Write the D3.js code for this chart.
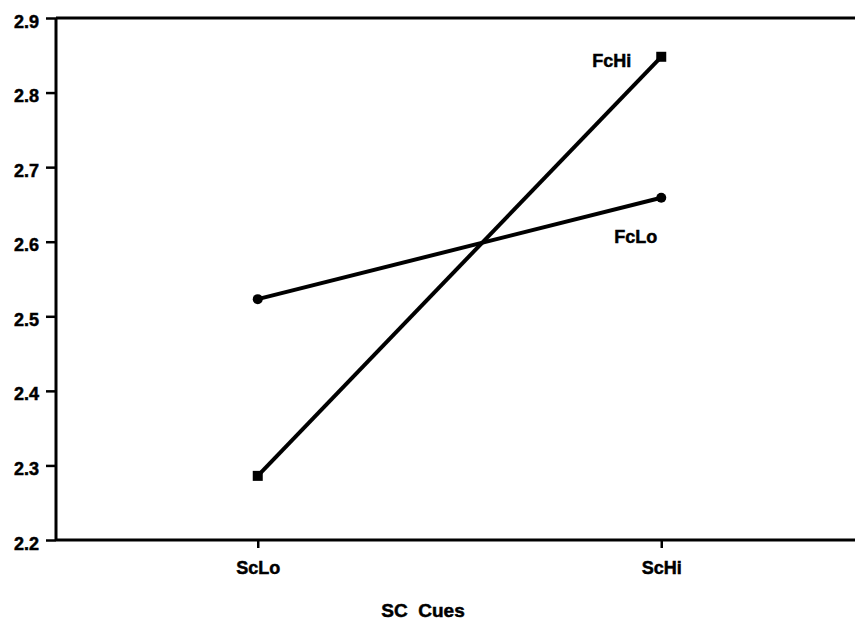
<!DOCTYPE html>
<html>
<head>
<meta charset="utf-8">
<script src="https://cdn.jsdelivr.net/npm/d3@7"></script>
<style>
  body { margin: 0; background: #fff; }
  svg { display: block; }
  text { font-family: "Liberation Sans", Arial, sans-serif; font-weight: bold; fill: #000; stroke: #000; stroke-width: 0.5px; }
</style>
</head>
<body>
<svg id="chart" width="855" height="621"></svg>
<script>
const categories = ["ScLo", "ScHi"];
const seriesNames = ["FcLo", "FcHi"];
const fcLo = [2.523, 2.659];
const fcHi = [2.286, 2.848];
const yTicks = [2.2, 2.3, 2.4, 2.5, 2.6, 2.7, 2.8, 2.9];
const xTitle = "SC\u00A0\u00A0Cues";

(function () {
const svg = d3.select("#chart");
const mLeft = 56, mRight = 863, mTop = 18, mBottom = 540;

const x = d3.scalePoint().domain(categories).range([mLeft, mRight]).padding(0.5);
const y = d3.scaleLinear().domain([2.2, 2.9]).range([mBottom, mTop]);

svg.append("line").attr("x1", mLeft).attr("x2", 855).attr("y1", mTop).attr("y2", mTop)
  .attr("stroke", "#000").attr("stroke-width", 3);

const yAxis = svg.append("g").attr("transform", `translate(${mLeft},0)`)
  .call(d3.axisLeft(y).tickValues(yTicks).tickFormat(d3.format(".1f")).tickSize(10).tickPadding(7));
yAxis.select(".domain").attr("stroke-width", 3).attr("d", `M0,${mTop}V${mBottom}`);
yAxis.selectAll(".tick line").attr("stroke-width", 2.5);
yAxis.selectAll("text").style("font-size", "18px").attr("dy", "0.5em");

const xAxis = svg.append("g").attr("transform", `translate(0,${mBottom})`)
  .call(d3.axisBottom(x).tickSize(8).tickPadding(13));
xAxis.select(".domain").attr("stroke-width", 3).attr("d", `M${mLeft},0H855`);
xAxis.selectAll(".tick line").attr("stroke-width", 2.5);
xAxis.selectAll("text").style("font-size", "18px");

svg.append("text").attr("x", 423).attr("y", 617).attr("text-anchor", "middle")
  .style("font-size", "19px").text(xTitle);

const line = d3.line().x((d, i) => x(categories[i])).y(d => y(d));

svg.append("path").datum(fcLo).attr("d", line).attr("fill", "none")
  .attr("stroke", "#000").attr("stroke-width", 4);
svg.append("path").datum(fcHi).attr("d", line).attr("fill", "none")
  .attr("stroke", "#000").attr("stroke-width", 4);

svg.selectAll("circle.m").data(fcLo).enter().append("circle")
  .attr("cx", (d, i) => x(categories[i])).attr("cy", d => y(d)).attr("r", 5).attr("fill", "#000");
svg.selectAll("rect.m").data(fcHi).enter().append("rect")
  .attr("x", (d, i) => x(categories[i]) - 5).attr("y", d => y(d) - 5)
  .attr("width", 10).attr("height", 10).attr("fill", "#000");

svg.append("text").attr("x", x("ScHi") - 30).attr("y", y(fcHi[1]) + 10)
  .attr("text-anchor", "end").style("font-size", "18px").text(seriesNames[1]);
svg.append("text").attr("x", x("ScHi") - 47).attr("y", y(fcLo[1]) + 45)
  .attr("text-anchor", "start").style("font-size", "18px").text(seriesNames[0]);
})();
</script>
</body>
</html>
